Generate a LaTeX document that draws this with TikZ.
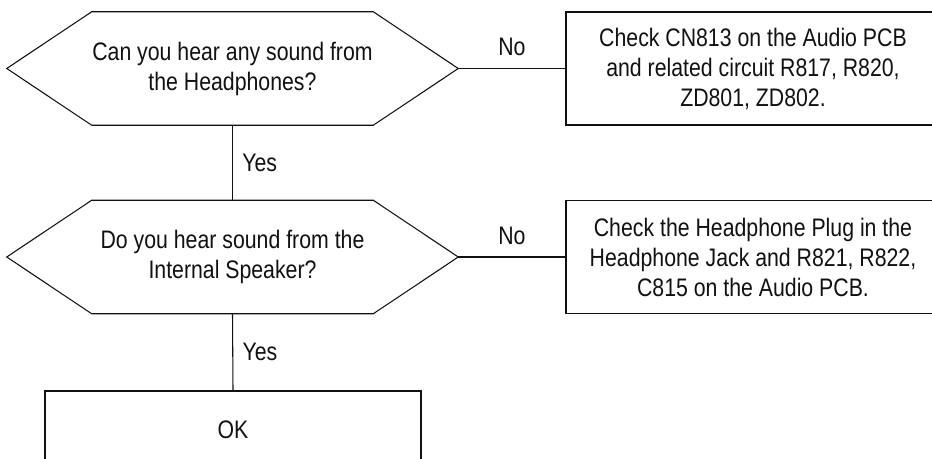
\documentclass[tikz,border=0pt]{standalone}
\usepackage{fontspec}
\setmainfont[FakeStretch=0.84]{Liberation Sans}
\usetikzlibrary{positioning}
\definecolor{ink}{HTML}{111111}
\tikzset{
  decision/.style={rectangle,minimum width=338.25pt,minimum height=84.75pt,
    inner sep=0pt,align=center,text=ink,font=\fontsize{19}{22.5}\selectfont},
  action/.style={rectangle,draw=ink,line width=0.8pt,minimum width=280.5pt,minimum height=84.75pt,
    align=center,text=ink,font=\fontsize{19}{22.5}\selectfont},
  link/.style={draw=ink,line width=0.8pt},
  elab/.style={text=ink,font=\fontsize{19}{22.5}\selectfont,inner sep=3pt}}
% hexagon outline round a decision node
\newcommand{\hexframe}[1]{\draw[link] (#1.west) -- ([xshift=63.75pt]#1.north west) -- ([xshift=-63.75pt]#1.north east)
  -- (#1.east) -- ([xshift=-63.75pt]#1.south east) -- ([xshift=63.75pt]#1.south west) -- cycle;}
\begin{document}
\begin{tikzpicture}[x=0.75pt,y=-0.75pt]
\clip (0,0) rectangle (932,459);
\node[decision] (qPhones) at (232.5,68.5) {Can you hear any sound from\\the Headphones?};
\hexframe{qPhones}
\node[action] (fixJack) at (753,68.5) {Check CN813 on the Audio PCB\\and related circuit R817, R820,\\ZD801, ZD802.};
\node[decision] (qSpeaker) at (232.5,257) {Do you hear sound from the\\Internal Speaker?};
\hexframe{qSpeaker}
\node[action] (fixPlug) at (753,257) {Check the Headphone Plug in the\\Headphone Jack and R821, R822,\\C815 on the Audio PCB.};
\node[action,minimum width=282pt,minimum height=58.5pt] (okBox) at (233,430) {OK};
\draw[link] (qPhones.east) -- node[elab,above=6pt]{No} (fixJack.west);
\draw[link] (qPhones.south) -- node[elab,right=4pt]{Yes} (qSpeaker.north);
\draw[link] (qSpeaker.east) -- node[elab,above=6pt]{No} (fixPlug.west);
\draw[link] (qSpeaker.south) -- node[elab,right=4pt]{Yes} (okBox.north);
\end{tikzpicture}
\end{document}
